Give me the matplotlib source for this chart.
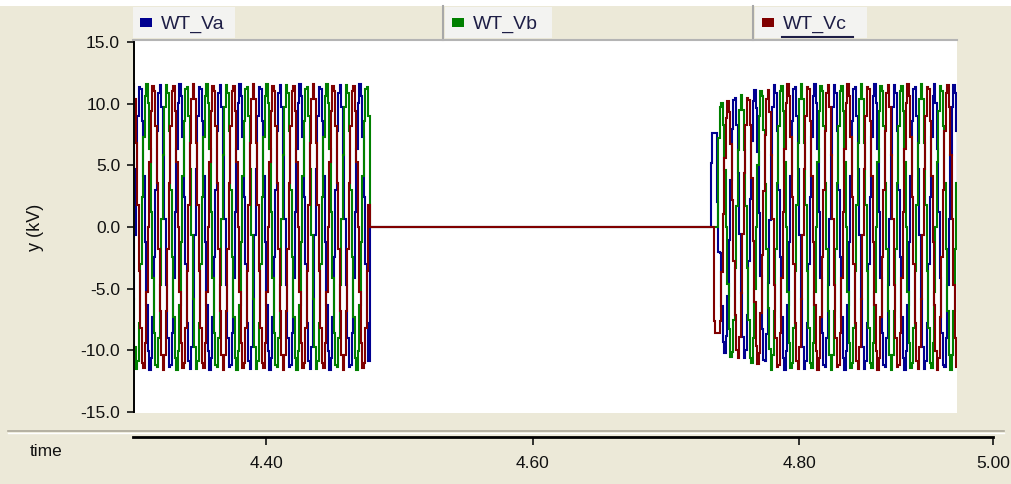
import numpy as np
import matplotlib
matplotlib.use('Agg')
import matplotlib.pyplot as plt
from matplotlib.patches import Rectangle
from matplotlib.lines import Line2D

# plot step of the channels (s) and the start of both blocks
DT = 0.001125
T1_START = 4.30
T2_START = 4.7335

# block 1 (before the outage), kV
va_1 = [
    -5.80, -0.61, 4.72, 9.01, 11.35, 11.20, 8.62, 4.16, -1.21, -6.32,
    -10.05, -11.58, -10.60, -7.30, -2.41, 3.00, 7.76, 10.83, 11.54, 9.73,
    5.80, 0.61, -4.72, -9.01, -11.35, -11.20, -8.62, -4.16, 1.21, 6.32,
    10.05, 11.58, 10.60, 7.30, 2.41, -3.00, -7.76, -10.83, -11.54, -9.73,
    -5.80, -0.61, 4.72, 9.01, 11.35, 11.20, 8.62, 4.16, -1.21, -6.32,
    -10.05, -11.58, -10.60, -7.30, -2.41, 3.00, 7.76, 10.83, 11.54, 9.73,
    5.80, 0.61, -4.72, -9.01, -11.35, -11.20, -8.62, -4.16, 1.21, 6.32,
    10.05, 11.58, 10.60, 7.30, 2.41, -3.00, -7.76, -10.83, -11.54, -9.73,
    -5.80, -0.61, 4.72, 9.01, 11.35, 11.20, 8.62, 4.16, -1.21, -6.32,
    -10.05, -11.58, -10.60, -7.30, -2.41, 3.00, 7.76, 10.83, 11.54, 9.73,
    5.80, 0.61, -4.72, -9.01, -11.35, -11.20, -8.62, -4.16, 1.21, 6.32,
    10.05, 11.58, 10.60, 7.30, 2.41, -3.00, -7.76, -10.83, -11.54, -9.73,
    -5.80, -0.61, 4.72, 9.01, 11.35, 11.20, 8.62, 4.16, -1.21, -6.32,
    -10.05, -11.58, -10.60, -7.30, -2.41, 3.00, 7.76, 10.83, 11.54, 9.73,
    5.80, 0.61, -4.72, -9.01, -11.35, -11.20, -8.62, -4.16, 1.21, 6.32,
    10.05, 11.58, 10.60, 7.30, 2.41, -3.00, -7.76, -10.83,
]
vb_1 = [
    -5.80, -9.73, -11.54, -10.83, -7.76, -3.00, 2.41, 7.30, 10.60, 11.58,
    10.05, 6.32, 1.21, -4.16, -8.62, -11.20, -11.35, -9.01, -4.72, 0.61,
    5.80, 9.73, 11.54, 10.83, 7.76, 3.00, -2.41, -7.30, -10.60, -11.58,
    -10.05, -6.32, -1.21, 4.16, 8.62, 11.20, 11.35, 9.01, 4.72, -0.61,
    -5.80, -9.73, -11.54, -10.83, -7.76, -3.00, 2.41, 7.30, 10.60, 11.58,
    10.05, 6.32, 1.21, -4.16, -8.62, -11.20, -11.35, -9.01, -4.72, 0.61,
    5.80, 9.73, 11.54, 10.83, 7.76, 3.00, -2.41, -7.30, -10.60, -11.58,
    -10.05, -6.32, -1.21, 4.16, 8.62, 11.20, 11.35, 9.01, 4.72, -0.61,
    -5.80, -9.73, -11.54, -10.83, -7.76, -3.00, 2.41, 7.30, 10.60, 11.58,
    10.05, 6.32, 1.21, -4.16, -8.62, -11.20, -11.35, -9.01, -4.72, 0.61,
    5.80, 9.73, 11.54, 10.83, 7.76, 3.00, -2.41, -7.30, -10.60, -11.58,
    -10.05, -6.32, -1.21, 4.16, 8.62, 11.20, 11.35, 9.01, 4.72, -0.61,
    -5.80, -9.73, -11.54, -10.83, -7.76, -3.00, 2.41, 7.30, 10.60, 11.58,
    10.05, 6.32, 1.21, -4.16, -8.62, -11.20, -11.35, -9.01, -4.72, 0.61,
    5.80, 9.73, 11.54, 10.83, 7.76, 3.00, -2.41, -7.30, -10.60, -11.58,
    -10.05, -6.32, -1.21, 4.16, 8.62, 11.20, 11.35, 9.01,
]
vc_1 = [
    11.60, 10.34, 6.82, 1.82, -3.59, -8.20, -11.03, -11.46, -9.39, -5.26,
    0.00, 5.26, 9.39, 11.46, 11.03, 8.20, 3.59, -1.82, -6.82, -10.34,
    -11.60, -10.34, -6.82, -1.82, 3.59, 8.20, 11.03, 11.46, 9.39, 5.26,
    0.00, -5.26, -9.39, -11.46, -11.03, -8.20, -3.59, 1.82, 6.82, 10.34,
    11.60, 10.34, 6.82, 1.82, -3.59, -8.20, -11.03, -11.46, -9.39, -5.26,
    0.00, 5.26, 9.39, 11.46, 11.03, 8.20, 3.59, -1.82, -6.82, -10.34,
    -11.60, -10.34, -6.82, -1.82, 3.59, 8.20, 11.03, 11.46, 9.39, 5.26,
    0.00, -5.26, -9.39, -11.46, -11.03, -8.20, -3.59, 1.82, 6.82, 10.34,
    11.60, 10.34, 6.82, 1.82, -3.59, -8.20, -11.03, -11.46, -9.39, -5.26,
    0.00, 5.26, 9.39, 11.46, 11.03, 8.20, 3.59, -1.82, -6.82, -10.34,
    -11.60, -10.34, -6.82, -1.82, 3.59, 8.20, 11.03, 11.46, 9.39, 5.26,
    0.00, -5.26, -9.39, -11.46, -11.03, -8.20, -3.59, 1.82, 6.82, 10.34,
    11.60, 10.34, 6.82, 1.82, -3.59, -8.20, -11.03, -11.46, -9.39, -5.26,
    0.00, 5.26, 9.39, 11.46, 11.03, 8.20, 3.59, -1.82, -6.82, -10.34,
    -11.60, -10.34, -6.82, -1.82, 3.59, 8.20, 11.03, 11.46, 9.39, 5.26,
    0.00, -5.26, -9.39, -11.46, -11.03, -8.20, -3.59, 1.82,
]

# block 2 (after reclosing), kV
va_2 = [
    5.20, 7.60, 7.60, 7.60, 2.00, -2.00, -2.12, -6.42, -9.33, -10.19,
    -8.84, -5.56, -1.06, 3.83, 7.93, 10.30, 10.44, 8.29, 4.34, -0.56,
    -5.34, -8.95, -10.62, -9.96, -7.14, -2.76, 2.31, 7.01, 10.18, 11.12,
    9.65, 6.07, 1.16, -3.99, -8.28, -10.75, -10.90, -8.65, -4.53, 0.59,
    5.80, 9.73, 11.54, 10.83, 7.76, 3.00, -2.41, -7.30, -10.60, -11.58,
    -10.05, -6.32, -1.21, 4.16, 8.62, 11.20, 11.35, 9.01, 4.72, -0.61,
    -5.80, -9.73, -11.54, -10.83, -7.76, -3.00, 2.41, 7.30, 10.60, 11.58,
    10.05, 6.32, 1.21, -4.16, -8.62, -11.20, -11.35, -9.01, -4.72, 0.61,
    5.80, 9.73, 11.54, 10.83, 7.76, 3.00, -2.41, -7.30, -10.60, -11.58,
    -10.05, -6.32, -1.21, 4.16, 8.62, 11.20, 11.35, 9.01, 4.72, -0.61,
    -5.80, -9.73, -11.54, -10.83, -7.76, -3.00, 2.41, 7.30, 10.60, 11.58,
    10.05, 6.32, 1.21, -4.16, -8.62, -11.20, -11.35, -9.01, -4.72, 0.61,
    5.80, 9.73, 11.54, 10.83, 7.76, 3.00, -2.41, -7.30, -10.60, -11.58,
    -10.05, -6.32, -1.21, 4.16, 8.62, 11.20, 11.35, 9.01, 4.72, -0.61,
    -5.80, -9.73, -11.54, -10.83, -7.76, -3.00, 2.41, 7.30, 10.60, 11.58,
    10.05, 6.32, 1.21, -4.16, -8.62, -11.20, -11.35, -9.01, -4.72, 0.61,
    5.80, 9.73, 11.54, 10.83, 7.76, 3.00,
]
vb_2 = [
    0.00, 0.00, 0.00, 0.00, 0.00, 7.22, 9.71, 10.08, 8.26, 4.63,
    0.00, -4.63, -8.26, -10.54, -10.15, -7.54, -3.30, 1.67, 6.27, 9.51,
    10.67, 9.51, 6.27, 1.67, -3.30, -7.54, -10.59, -11.00, -9.01, -5.05,
    0.00, 5.05, 9.01, 11.00, 10.59, 7.87, 3.45, -1.75, -6.55, -9.93,
    -11.60, -10.34, -6.82, -1.82, 3.59, 8.20, 11.03, 11.46, 9.39, 5.26,
    0.00, -5.26, -9.39, -11.46, -11.03, -8.20, -3.59, 1.82, 6.82, 10.34,
    11.60, 10.34, 6.82, 1.82, -3.59, -8.20, -11.03, -11.46, -9.39, -5.26,
    0.00, 5.26, 9.39, 11.46, 11.03, 8.20, 3.59, -1.82, -6.82, -10.34,
    -11.60, -10.34, -6.82, -1.82, 3.59, 8.20, 11.03, 11.46, 9.39, 5.26,
    0.00, -5.26, -9.39, -11.46, -11.03, -8.20, -3.59, 1.82, 6.82, 10.34,
    11.60, 10.34, 6.82, 1.82, -3.59, -8.20, -11.03, -11.46, -9.39, -5.26,
    0.00, 5.26, 9.39, 11.46, 11.03, 8.20, 3.59, -1.82, -6.82, -10.34,
    -11.60, -10.34, -6.82, -1.82, 3.59, 8.20, 11.03, 11.46, 9.39, 5.26,
    0.00, -5.26, -9.39, -11.46, -11.03, -8.20, -3.59, 1.82, 6.82, 10.34,
    11.60, 10.34, 6.82, 1.82, -3.59, -8.20, -11.03, -11.46, -9.39, -5.26,
    0.00, 5.26, 9.39, 11.46, 11.03, 8.20, 3.59, -1.82, -6.82, -10.34,
    -11.60, -10.34, -6.82, -1.82, 3.59, 8.20,
]
vc_2 = [
    0.00, 0.00, -7.60, -8.60, -8.60, -8.60, -7.59, -3.66, 1.06, 5.56,
    8.84, 10.19, 9.33, 6.72, 2.22, -2.76, -7.14, -9.96, -10.62, -8.95,
    -5.34, -0.56, 4.34, 8.29, 10.44, 10.30, 8.28, 3.99, -1.16, -6.07,
    -9.65, -11.12, -10.18, -7.01, -2.31, 2.88, 7.45, 10.40, 11.08, 9.34,
    5.80, 0.61, -4.72, -9.01, -11.35, -11.20, -8.62, -4.16, 1.21, 6.32,
    10.05, 11.58, 10.60, 7.30, 2.41, -3.00, -7.76, -10.83, -11.54, -9.73,
    -5.80, -0.61, 4.72, 9.01, 11.35, 11.20, 8.62, 4.16, -1.21, -6.32,
    -10.05, -11.58, -10.60, -7.30, -2.41, 3.00, 7.76, 10.83, 11.54, 9.73,
    5.80, 0.61, -4.72, -9.01, -11.35, -11.20, -8.62, -4.16, 1.21, 6.32,
    10.05, 11.58, 10.60, 7.30, 2.41, -3.00, -7.76, -10.83, -11.54, -9.73,
    -5.80, -0.61, 4.72, 9.01, 11.35, 11.20, 8.62, 4.16, -1.21, -6.32,
    -10.05, -11.58, -10.60, -7.30, -2.41, 3.00, 7.76, 10.83, 11.54, 9.73,
    5.80, 0.61, -4.72, -9.01, -11.35, -11.20, -8.62, -4.16, 1.21, 6.32,
    10.05, 11.58, 10.60, 7.30, 2.41, -3.00, -7.76, -10.83, -11.54, -9.73,
    -5.80, -0.61, 4.72, 9.01, 11.35, 11.20, 8.62, 4.16, -1.21, -6.32,
    -10.05, -11.58, -10.60, -7.30, -2.41, 3.00, 7.76, 10.83, 11.54, 9.73,
    5.80, 0.61, -4.72, -9.01, -11.35, -11.20,
]

names = ['WT_Va', 'WT_Vb', 'WT_Vc']
colors = ['#000090', '#008000', '#800000']
y_ticks = [15.0, 10.0, 5.0, 0.0, -5.0, -10.0, -15.0]
time_ticks = [4.40, 4.60, 4.80]
time_labels = ['4.40', '4.60', '4.80', '5.00']

BEIGE = '#ECE9D8'
TAB = '#F3F3F1'
W, H = 1011, 484
PX_PER_S = 1332.5


def fx(px):
    return px / W


def fy(py):
    return 1 - py / H


plt.rcParams['font.family'] = ['Liberation Sans', 'DejaVu Sans']
plt.rcParams['axes.unicode_minus'] = False

fig = plt.figure(figsize=(W / 100, H / 100), dpi=100)
fig.patch.set_facecolor(BEIGE)

# white strip on top of the screenshot
fig.patches.append(Rectangle((0, fy(6)), 1, 6 / H, transform=fig.transFigure,
                             facecolor='white', edgecolor='none', zorder=0))

# ---- main plot
ax = fig.add_axes([fx(134), fy(413), fx(957 - 134), (413 - 41) / H])
t1 = T1_START + DT * np.arange(len(va_1))
t2 = T2_START + DT * np.arange(len(va_2))
t = np.concatenate([t1, [t1[-1] + DT, t2[0] - DT], t2])
series = [(va_1, va_2), (vb_1, vb_2), (vc_1, vc_2)]
for (s1, s2), c in zip(series, colors):
    y = np.concatenate([s1, [0.0, 0.0], s2])
    ax.plot(t, y, color=c, lw=1.5, drawstyle='steps-post',
            solid_joinstyle='miter')

ax.set_xlim(T1_START + 1 / PX_PER_S, T1_START + 824 / PX_PER_S)
ax.set_ylim(-15.0 - 1 / 12.33, 15.0 + 1 / 12.33)
ax.set_facecolor('white')
for s in ['top', 'right', 'bottom']:
    ax.spines[s].set_visible(False)
ax.spines['left'].set_bounds(-15, 15)
ax.spines['left'].set_linewidth(1.4)
ax.set_xticks([])
ax.set_yticks(y_ticks)
ax.set_yticklabels(['%.1f' % v for v in y_ticks])
ax.tick_params(axis='y', direction='out', length=5, width=1.2, pad=5,
               labelsize=12.5, colors='#111111')
fig.text(fx(36), fy(227), 'y (kV)', rotation=90, ha='center', va='center',
         fontsize=13, color='#111111')

# ---- time axis
tax = fig.add_axes([fx(133), fy(437), fx(993 - 133), 0.0001])
tax.set_xlim(T1_START, T1_START + 860 / PX_PER_S)
tax.set_ylim(0, 1)
for s in ['top', 'right', 'left']:
    tax.spines[s].set_visible(False)
tax.spines['bottom'].set_linewidth(2.0)
tax.set_yticks([])
tax.set_xticks(time_ticks + [T1_START + 860 / PX_PER_S])
tax.set_xticklabels(time_labels)
tax.tick_params(axis='x', direction='out', length=6, width=1.2, pad=8,
                labelsize=12.5, colors='#111111')
tax.patch.set_visible(False)
fig.text(fx(30), fy(452), 'time', ha='left', va='center', fontsize=12.5,
         color='#111111')

# separator between plot frame and time axis
fig.lines.append(Line2D([fx(8), fx(1004)], [fy(431), fy(431)], color='#ACA899',
                        lw=1.2, transform=fig.transFigure))
fig.lines.append(Line2D([fx(8), fx(1004)], [fy(433), fy(433)], color='white',
                        lw=1.0, transform=fig.transFigure))

# ---- legend tab bar
tabs = [(133, 235), (445, 552), (755, 867)]
for (x0, x1), name, c in zip(tabs, names, colors):
    fig.patches.append(Rectangle((fx(x0), fy(38)), fx(x1 - x0), 31 / H,
                                 transform=fig.transFigure, facecolor=TAB,
                                 edgecolor='none'))
    fig.patches.append(Rectangle((fx(x0 + 7), fy(27)), fx(12), 9 / H,
                                 transform=fig.transFigure, facecolor=c,
                                 edgecolor='none'))
    fig.text(fx(x0 + 28), fy(24), name, ha='left', va='center', fontsize=14,
             color='#1E1E46')
for xs in [443, 753]:
    fig.lines.append(Line2D([fx(xs), fx(xs)], [fy(6), fy(40)], color='#A8A8A8',
                            lw=1.5, transform=fig.transFigure))
fig.lines.append(Line2D([fx(133), fx(957)], [fy(40), fy(40)], color='#B4B4B4',
                        lw=1.5, transform=fig.transFigure))
# selected tab underline
fig.lines.append(Line2D([fx(782), fx(853)], [fy(37), fy(37)], color='#1E1E46',
                        lw=1.5, transform=fig.transFigure))

fig.savefig('out.png', dpi=100, facecolor=fig.get_facecolor())
